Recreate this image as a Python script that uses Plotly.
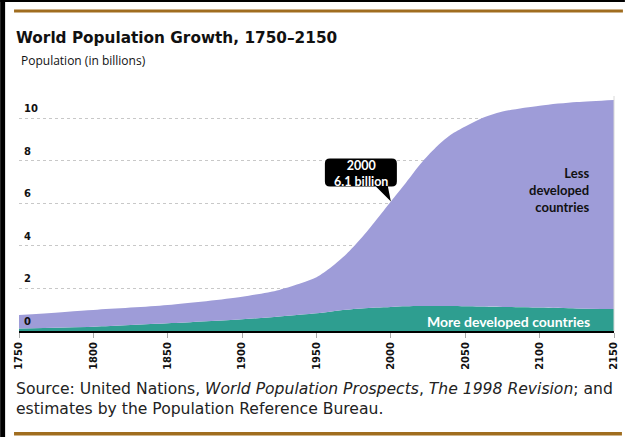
import plotly.graph_objects as go

# ---- data (billions) ----
years = [1750, 1800, 1850, 1900, 1925, 1940, 1950, 1960, 1970, 1980, 1990,
         2000, 2010, 2020, 2030, 2040, 2050, 2060, 2075, 2100, 2125, 2150]
more_developed = [0.12, 0.20, 0.36, 0.55, 0.68, 0.77, 0.83, 0.92, 1.00, 1.06, 1.10,
                  1.13, 1.16, 1.17, 1.17, 1.17, 1.16, 1.15, 1.13, 1.10, 1.06, 1.03]
less_developed = [0.63, 0.79, 0.86, 1.06, 1.25, 1.48, 1.69, 2.08, 2.60, 3.29, 4.10,
                  4.95, 5.79, 6.68, 7.43, 8.03, 8.44, 8.80, 9.17, 9.48, 9.69, 9.82]
x_ticks = [1750, 1800, 1850, 1900, 1950, 2000, 2050, 2100, 2150]
y_ticks = [0, 2, 4, 6, 8, 10]
callout_year = 2000
callout_text = "<b>2000</b><br><b>6.1 billion</b>"

W, H = 630, 437
L, R, T, B = 19, 11, 90, 106
PW, PH = W - L - R, H - T - B
def pxx(px):
    return (px - L) / PW
def pyy(py):
    return (H - B - py) / PH

PURPLE = "#9e9cd8"
TEAL = "#2e9e90"
BROWN = "#a06d1f"

fig = go.Figure()
fig.add_trace(go.Scatter(x=years, y=more_developed, stackgroup="pop", mode="none",
                         fillcolor=TEAL, name="More developed countries",
                         line=dict(shape="spline", smoothing=0.8), hoverinfo="x+y"))
fig.add_trace(go.Scatter(x=years, y=less_developed, stackgroup="pop", mode="none",
                         fillcolor=PURPLE, name="Less developed countries",
                         line=dict(shape="spline", smoothing=0.8), hoverinfo="x+y"))

idx = years.index(callout_year)
tip_y = more_developed[idx] + less_developed[idx]

shapes = []
# speech bubble anchored at data point (pixel offsets)
r = 5
x0, x1, yb, yt = -66, 6, 15, 43
bubble = (f"M -3,{yb} L 0,0 L -15,{yb} L {x0 + r},{yb} "
          f"Q {x0},{yb} {x0},{yb + r} L {x0},{yt - r} Q {x0},{yt} {x0 + r},{yt} "
          f"L {x1 - r},{yt} Q {x1},{yt} {x1},{yt - r} L {x1},{yb + r} "
          f"Q {x1},{yb} {x1 - r},{yb} Z")
shapes.append(dict(type="path", xref="x", yref="y", xsizemode="pixel", ysizemode="pixel",
                   xanchor=callout_year, yanchor=tip_y, path=bubble,
                   fillcolor="black", line=dict(width=0), layer="above"))
# frame decorations
shapes.append(dict(type="rect", xref="paper", yref="paper", x0=pxx(0), x1=pxx(5),
                   y0=pyy(H), y1=pyy(0), fillcolor="black", line=dict(width=0), layer="above"))
shapes.append(dict(type="rect", xref="paper", yref="paper", x0=pxx(0), x1=pxx(W),
                   y0=pyy(2), y1=pyy(0), fillcolor="black", line=dict(width=0), layer="above"))
shapes.append(dict(type="rect", xref="paper", yref="paper", x0=pxx(14), x1=pxx(628),
                   y0=pyy(12.5), y1=pyy(9.5), fillcolor=BROWN, line=dict(width=0)))
shapes.append(dict(type="rect", xref="paper", yref="paper", x0=pxx(14), x1=pxx(627),
                   y0=pyy(435.5), y1=pyy(432), fillcolor=BROWN, line=dict(width=0)))
# faint right frame line of the plot
shapes.append(dict(type="line", xref="paper", yref="paper", x0=1, x1=1, y0=0, y1=pyy(96),
                   line=dict(color="#d8d8d8", width=1)))

ann = []
for v in y_ticks:
    ann.append(dict(xref="paper", yref="y", x=pxx(22), y=v, xanchor="left",
                    yanchor="bottom", yshift=2, showarrow=False, text=str(v),
                    font=dict(family="DejaVu Sans", size=10, color="#111", weight="bold")))
ann.append(dict(xref="paper", yref="paper", x=pxx(14), y=pyy(38), xanchor="left",
                yanchor="middle", showarrow=False,
                text="World Population Growth, 1750\u20132150",
                font=dict(family="DejaVu Sans", size=15.3, color="#111", weight="bold")))
ann.append(dict(xref="paper", yref="paper", x=pxx(19), y=pyy(60), xanchor="left",
                yanchor="middle", showarrow=False, text="Population (in billions)",
                font=dict(family="Open Sans", size=12, color="#111")))
ann.append(dict(xref="paper", yref="paper", x=pxx(14), y=pyy(399), xanchor="left",
                yanchor="middle", showarrow=False, align="left",
                text=("Source: United Nations, <i>World Population Prospects</i>, "
                      "<i>The 1998 Revision</i>; and<br>estimates by the Population Reference Bureau."),
                font=dict(family="DejaVu Sans", size=15.6, color="#222")))
ann.append(dict(xref="x", yref="y", x=callout_year, y=tip_y, xshift=-30, yshift=28,
                showarrow=False, text=callout_text, align="center",
                font=dict(family="Lato", size=12.5, color="white")))
ann.append(dict(xref="paper", yref="paper", x=pxx(596), y=pyy(190), xanchor="right",
                yanchor="middle", showarrow=False, align="right",
                text="Less<br>developed<br>countries",
                font=dict(family="Lato", size=13, color="#111", weight="bold")))
ann.append(dict(xref="paper", yref="paper", x=pxx(597), y=pyy(321), xanchor="right",
                yanchor="middle", showarrow=False, text="More developed countries",
                font=dict(family="Lato", size=14, color="white", weight="bold")))

fig.update_layout(
    width=W, height=H, margin=dict(l=L, r=R, t=T, b=B),
    paper_bgcolor="white", plot_bgcolor="white", showlegend=False,
    shapes=shapes, annotations=ann,
    xaxis=dict(range=[1750, 2150], tickvals=x_ticks, ticktext=[str(v) for v in x_ticks],
               tickangle=-90, ticks="outside", ticklen=5, tickcolor="#aaa",
               showgrid=False, zeroline=False, showline=True, linecolor="black",
               linewidth=2, tickfont=dict(family="DejaVu Sans", size=10, color="#111",
                                          weight="bold")),
    yaxis=dict(range=[0, PH / 21.3], tickvals=y_ticks, showticklabels=False,
               showgrid=True, gridcolor="#c8c8c8",
               griddash="dot", gridwidth=1, zeroline=False, showline=False),
)

fig.write_html("out.html")
